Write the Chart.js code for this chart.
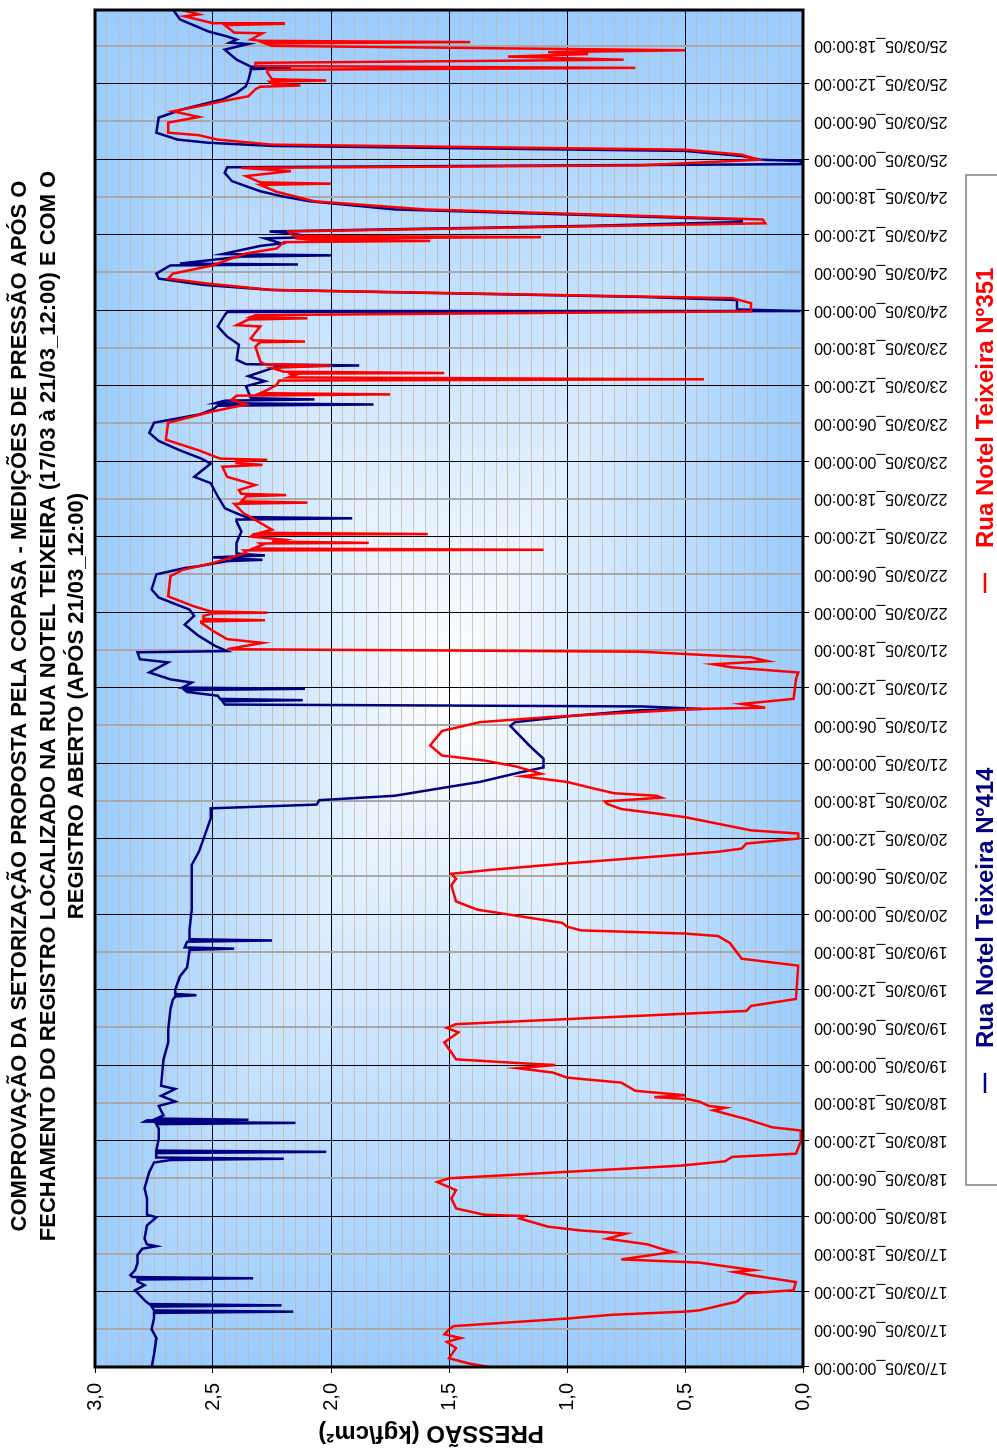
<!DOCTYPE html>
<html>
<head>
<meta charset="utf-8">
<script src="https://cdn.jsdelivr.net/npm/chart.js@4.4.1/dist/chart.umd.min.js"></script>
<style>
  html, body { margin: 0; padding: 0; background: #fff; overflow: hidden; }
  /* chart is drawn landscape and turned a quarter turn, like the scanned sheet */
  #wrap { position: absolute; left: 0; top: 0; width: 1448px; height: 997px;
          transform-origin: 0 0; transform: translate(0, 1448px) rotate(-90deg); }
</style>
</head>
<body>
<div id="wrap"><canvas id="chart" width="1448" height="997"></canvas></div>
<script>
// hours since 17/03/05 00:00 and pressure (kgf/cm2)
const hours414 = [
  0, 2, 4.6, 6, 7.7, 8.6, 8.8, 9.0, 9.6, 9.8,
  10.0, 10.6, 12.2, 13.0, 13.6, 13.9, 14.1, 14.3, 14.6, 15.4,
  16.5, 17.8, 18.8, 19.2, 19.5, 20.4, 22.5, 23.8, 24.2, 26.8,
  28.4, 31.0, 32.5, 32.9, 33.1, 33.3, 34.0, 34.2, 34.4, 36.3,
  37.9, 38.6, 38.8, 39.0, 39.2, 39.3, 39.5, 40.0, 41.5, 42.2,
  43.1, 44.2, 44.7, 48.9, 51.6, 53.7, 56.9, 58.4, 58.9, 59.1,
  59.3, 60.0, 62.1, 63.5, 66.1, 66.3, 66.5, 66.7, 67.6, 67.8,
  68.0, 69.5, 72.7, 77.7, 79.8, 81.9, 84.0, 87.2, 88.8, 89.4,
  90.1, 90.8, 92.4, 93.0, 94.5, 95.3, 96.7, 98.8, 101.9, 102.5,
  103.5, 104.4, 104.6, 105.0, 105.3, 105.8, 106.0, 106.2, 106.7, 107.3,
  107.6, 107.8, 108.0, 108.8, 109.3, 110.4, 112.0, 112.5, 113.6, 113.8,
  114.6, 116.2, 118.0, 119.4, 120.4, 122.3, 123.6, 126.0, 127.0, 127.3,
  128.1, 128.3, 128.7, 129.0, 129.3, 129.9, 131.0, 132.8, 134.4, 134.7,
  134.9, 135.1, 135.7, 136.5, 138.4, 140.5, 141.5, 143.6, 144.4, 145.7,
  147.2, 148.5, 150.1, 151.4, 152.2, 152.8, 153.0, 153.2, 153.6, 153.8,
  154.0, 155.9, 156.7, 157.5, 159.0, 159.2, 159.4, 160.1, 162.5, 163.8,
  165.4, 167.2, 167.7, 167.85, 168.1, 169.6, 170.1, 171.2, 172.0, 173.0,
  173.8, 174.9, 175.1, 175.25, 175.4, 176.5, 176.7, 176.9, 178.2, 178.6,
  179.4, 179.6, 180.2, 180.5, 181.4, 182.0, 182.4, 184.0, 185.3, 186.1,
  186.9, 188.5, 189.8, 190.7, 191.2, 191.7, 191.9, 192.5, 193.3, 194.1,
  194.6, 195.1, 196.2, 198.6, 199.9, 201.5, 202.5, 203.6, 204.6, 206.0,
  206.3, 206.5, 206.7, 207.8, 209.4, 210.3, 210.5, 211.0, 211.5, 212.3,
  214.2, 215.8
];
const pressure414 = [
  2.76, 2.75, 2.74, 2.76, 2.75, 2.75, 2.16, 2.75, 2.76, 2.21,
  2.77, 2.79, 2.83, 2.79, 2.82, 2.82, 2.33, 2.84, 2.85, 2.83,
  2.82, 2.82, 2.80, 2.74, 2.78, 2.79, 2.78, 2.74, 2.78, 2.78,
  2.79, 2.77, 2.75, 2.68, 2.20, 2.74, 2.74, 2.02, 2.74, 2.73,
  2.73, 2.74, 2.15, 2.79, 2.78, 2.35, 2.74, 2.71, 2.73, 2.66,
  2.72, 2.66, 2.72, 2.71, 2.69, 2.69, 2.68, 2.67, 2.66, 2.57,
  2.66, 2.66, 2.64, 2.61, 2.60, 2.60, 2.41, 2.62, 2.61, 2.25,
  2.60, 2.60, 2.59, 2.59, 2.59, 2.56, 2.54, 2.51, 2.51, 2.06,
  2.05, 1.73, 1.47, 1.37, 1.20, 1.10, 1.10, 1.16, 1.24, 1.22,
  0.98, 0.69, 0.43, 0.68, 2.45, 2.46, 2.12, 2.47, 2.48, 2.61,
  2.62, 2.11, 2.63, 2.59, 2.68, 2.77, 2.69, 2.81, 2.82, 2.44,
  2.49, 2.56, 2.62, 2.58, 2.60, 2.73, 2.76, 2.74, 2.62, 2.56,
  2.44, 2.29, 2.50, 2.28, 2.40, 2.40, 2.40, 2.38, 2.40, 2.40,
  1.91, 2.36, 2.40, 2.45, 2.48, 2.51, 2.58, 2.51, 2.55, 2.64,
  2.73, 2.77, 2.75, 2.56, 2.50, 2.48, 1.82, 2.49, 2.45, 2.07,
  2.34, 2.36, 2.28, 2.35, 2.23, 1.88, 2.36, 2.40, 2.39, 2.44,
  2.48, 2.45, 2.44, 0.01, 0.28, 0.28, 0.69, 2.25, 2.54, 2.73,
  2.74, 2.69, 2.68, 2.14, 2.64, 2.38, 2.00, 2.46, 2.30, 2.21,
  2.28, 2.08, 2.17, 2.26, 0.90, 0.26, 0.26, 1.73, 2.09, 2.21,
  2.30, 2.42, 2.45, 2.44, 0.01, 0.01, 0.18, 0.26, 0.50, 2.25,
  2.52, 2.65, 2.74, 2.73, 2.63, 2.46, 2.40, 2.36, 2.35, 2.34,
  2.34, 2.17, 2.34, 2.40, 2.45, 2.35, 2.43, 2.40, 2.44, 2.52,
  2.64, 2.67
];

const hours351 = [
  0, 0.6, 1.4, 3.0, 4.0, 4.6, 5.2, 6.0, 6.5, 7.7,
  8.3, 8.8, 9.0, 10.4, 11.7, 12.2, 13.5, 14.6, 15.1, 15.4,
  16.6, 17.1, 18.3, 18.8, 19.5, 20.4, 21.2, 21.7, 22.3, 23.6,
  24.0, 24.2, 25.2, 26.8, 28.1, 29.4, 30.0, 32.0, 32.7, 33.4,
  33.9, 35.8, 37.6, 38.1, 39.4, 40.8, 41.2, 41.5, 42.2, 42.6,
  42.9, 43.2, 43.9, 45.2, 46.0, 46.8, 47.5, 48.0, 48.3, 48.9,
  50.0, 51.6, 53.2, 53.9, 54.5, 56.6, 57.4, 58.5, 63.8, 64.9,
  67.4, 68.5, 68.9, 69.4, 70.0, 70.6, 72.7, 74.0, 76.6, 77.6,
  78.4, 79.0, 80.0, 81.9, 82.4, 83.2, 84.0, 84.8, 85.3, 87.4,
  88.7, 89.5, 89.9, 90.5, 90.8, 91.2, 91.9, 93.0, 93.9, 94.3,
  95.5, 96.4, 97.2, 98.8, 101.1, 102.5, 103.3, 104.6, 104.8, 105.4,
  106.2, 109.3, 110.4, 111.2, 111.7, 112.2, 112.8, 113.7, 114.1, 115.1,
  115.7, 117.0, 118.3, 118.5, 118.7, 118.9, 119.4, 119.8, 119.9, 120.1,
  120.9, 122.5, 125.7, 126.7, 127.8, 129.4, 129.8, 129.9, 130.1, 130.7,
  130.9, 131.0, 131.2, 131.5, 132.0, 132.3, 132.4, 132.6, 133.1, 134.4,
  135.7, 137.2, 137.4, 137.6, 138.4, 138.6, 138.8, 139.4, 140.2, 141.5,
  143.1, 143.4, 143.7, 144.0, 144.2, 144.4, 145.7, 147.4, 150.1, 151.9,
  153.0, 153.8, 154.4, 154.6, 154.8, 155.3, 156.1, 156.8, 157.0, 157.3,
  157.7, 157.9, 158.0, 158.2, 158.8, 159.2, 159.4, 159.8, 162.2, 162.9,
  163.0, 163.2, 163.5, 165.4, 165.6, 166.5, 166.7, 166.9, 167.2, 167.8,
  169.1, 169.9, 171.2, 172.2, 173.0, 173.8, 175.1, 175.7, 177.0, 177.8,
  178.8, 179.0, 179.2, 179.4, 179.6, 179.8, 180.5, 181.8, 182.4, 184.0,
  185.3, 186.8, 187.9, 188.1, 188.3, 189.3, 190.1, 190.6, 191.0, 191.9,
  192.7, 193.5, 194.3, 195.1, 195.8, 196.2, 197.8, 198.7, 199.6,
  200.4, 201.2, 202.0, 203.1, 203.5, 203.7, 204.0, 204.3, 204.5, 204.7,
  205.8, 206.2, 206.5, 206.8, 207.3, 207.8, 208.3, 208.7, 209.0, 209.3,
  210.0, 210.4, 210.6, 210.8, 211.0, 212.0, 212.1, 213.3, 213.5, 213.6,
  214.7, 215.0, 215.8
];
const pressure351 = [
  1.33, 1.42, 1.50, 1.47, 1.51, 1.45, 1.52, 1.50, 1.48, 1.00,
  0.81, 0.50, 0.44, 0.28, 0.24, 0.04, 0.03, 0.22, 0.29, 0.21,
  0.44, 0.77, 0.55, 0.60, 0.66, 0.83, 0.75, 0.94, 1.08, 1.20,
  1.18, 1.35, 1.47, 1.49, 1.47, 1.55, 1.50, 0.52, 0.33, 0.30,
  0.03, 0.01, 0.01, 0.13, 0.24, 0.38, 0.33, 0.40, 0.44, 0.49,
  0.63, 0.50, 0.71, 0.77, 1.00, 1.06, 1.21, 1.05, 1.20, 1.47,
  1.49, 1.52, 1.46, 1.51, 1.47, 0.24, 0.22, 0.03, 0.02, 0.26,
  0.31, 0.36, 0.50, 0.94, 1.00, 1.02, 1.38, 1.47, 1.49, 1.47,
  1.49, 1.33, 1.02, 0.36, 0.26, 0.24, 0.02, 0.02, 0.22, 0.50,
  0.77, 0.83, 0.84, 0.60, 0.62, 0.80, 0.88, 1.00, 1.19, 1.11,
  1.22, 1.35, 1.53, 1.58, 1.53, 1.37, 1.08, 0.46, 0.16, 0.26,
  0.04, 0.03, 0.02, 0.30, 0.38, 0.15, 0.22, 0.69, 2.44, 2.29,
  2.44, 2.50, 2.55, 2.55, 2.28, 2.54, 2.54, 2.50, 2.27, 2.51,
  2.58, 2.69, 2.68, 2.63, 2.50, 2.36, 2.37, 1.10, 2.33, 2.29,
  2.30, 1.84, 2.25, 2.20, 2.34, 2.33, 1.59, 2.30, 2.25, 2.31,
  2.37, 2.41, 2.10, 2.38, 2.36, 2.19, 2.38, 2.39, 2.32, 2.44,
  2.46, 2.29, 2.40, 2.40, 2.27, 2.47, 2.56, 2.70, 2.69, 2.50,
  2.36, 2.42, 2.40, 1.75, 2.30, 2.27, 2.23, 2.22, 0.42, 2.18,
  2.15, 2.18, 1.52, 2.20, 2.25, 2.00, 2.28, 2.30, 2.32, 2.30,
  2.11, 2.33, 2.34, 2.30, 2.40, 2.35, 2.10, 2.34, 2.32, 0.22,
  0.22, 0.30, 2.25, 2.52, 2.69, 2.67, 2.50, 2.46, 2.36, 2.23,
  2.20, 1.58, 2.07, 2.15, 1.11, 2.16, 2.18, 0.16, 0.17, 1.60,
  2.07, 2.23, 2.30, 2.00, 2.30, 2.36, 2.17, 2.38, 0.69, 0.19,
  0.26, 0.50, 2.25, 2.48, 2.56, 2.69, 2.69, 2.56, 2.67,
  2.56, 2.46, 2.35, 2.32, 2.30, 2.13, 2.25, 2.26, 2.02, 2.25,
  2.27, 2.27, 0.71, 2.32, 2.32, 0.76, 1.25, 0.91, 1.08, 0.50,
  2.25, 2.28, 1.41, 2.30, 2.34, 2.29, 2.41, 2.45, 2.20, 2.50,
  2.62, 2.56, 2.64
];

// axis labels
const dayLabels = ['17/03/05', '18/03/05', '19/03/05', '20/03/05', '21/03/05',
                   '22/03/05', '23/03/05', '24/03/05', '25/03/05'];
const hourLabels = ['00:00:00', '06:00:00', '12:00:00', '18:00:00'];
const pressureLabels = ['0,0', '0,5', '1,0', '1,5', '2,0', '2,5', '3,0'];
const titleLines = [
  'COMPROVAÇÃO DA SETORIZAÇÃO PROPOSTA PELA COPASA - MEDIÇÕES DE PRESSÃO APÓS O',
  'FECHAMENTO DO REGISTRO LOCALIZADO NA RUA NOTEL TEIXEIRA (17/03 à 21/03_12:00) E COM O',
  'REGISTRO ABERTO (APÓS 21/03_12:00)'
];
const seriesNames = ['Rua Notel Teixeira Nº414', 'Rua Notel Teixeira Nº351'];
const seriesColors = ['#000080', '#FF0000'];

const FONT = "'Liberation Sans', Arial, sans-serif";
const X_MAX = 215.7;
const EDGE = [153, 204, 255];

const toPoints = (xs, ys) => xs.map((x, i) => ({ x: x, y: ys[i] }));
const isMajorY = v => Math.abs(v * 2 - Math.round(v * 2)) < 1e-6;

// Excel style "from centre" fill behind the plot
const bgPlugin = {
  id: 'bgFill',
  beforeDraw(chart) {
    const a = chart.chartArea;
    const w = Math.round(a.right - a.left), h = Math.round(a.bottom - a.top);
    const img = chart.ctx.createImageData(w, h);
    const hw = w / 2, hh = h / 2;
    for (let y = 0; y < h; y++) {
      for (let x = 0; x < w; x++) {
        const t = Math.min(1, Math.max(Math.abs(x - hw) / hw, Math.abs(y - hh) / hh));
        const k = (y * w + x) * 4;
        img.data[k] = 255 + (EDGE[0] - 255) * t;
        img.data[k + 1] = 255 + (EDGE[1] - 255) * t;
        img.data[k + 2] = 255 + (EDGE[2] - 255) * t;
        img.data[k + 3] = 255;
      }
    }
    chart.ctx.putImageData(img, Math.round(a.left), Math.round(a.top));
  }
};

const textPlugin = {
  id: 'texts',
  afterDraw(chart) {
    const ctx = chart.ctx, a = chart.chartArea;
    ctx.save();
    // plot frame
    ctx.strokeStyle = '#000';
    ctx.lineWidth = 3;
    ctx.strokeRect(a.left, a.top, a.right - a.left, a.bottom - a.top);

    // title
    ctx.fillStyle = '#000';
    ctx.textAlign = 'center';
    ctx.textBaseline = 'middle';
    ctx.font = 'bold 22px ' + FONT;
    [20, 48.5, 77].forEach((y, i) => ctx.fillText(titleLines[i], 742, y));

    // y axis title
    ctx.save();
    ctx.translate(15, 431);
    ctx.rotate(-Math.PI / 2);
    ctx.font = 'bold 24px ' + FONT;
    ctx.fillText('PRESSÃO (kgf\\cm²)', 0, 0);
    ctx.restore();

    // legend
    ctx.strokeStyle = '#808080';
    ctx.lineWidth = 1.5;
    ctx.strokeRect(263, 966, 1010, 60);
    ctx.font = 'bold 24px ' + FONT;
    ctx.textAlign = 'left';
    [355, 855].forEach((x, i) => {
      ctx.strokeStyle = seriesColors[i];
      ctx.lineWidth = 2.5;
      ctx.beginPath();
      ctx.moveTo(x, 985);
      ctx.lineTo(x + 20, 985);
      ctx.stroke();
      ctx.fillStyle = seriesColors[i];
      ctx.fillText(seriesNames[i], x + 45, 986);
    });
    ctx.restore();
  }
};

const xTicks = [];
for (let h = 0; h <= 210; h += 6) xTicks.push(h);
const yTicks = [];
for (let i = 0; i <= 60; i++) yTicks.push(Math.round(i * 5) / 100);

new Chart(document.getElementById('chart').getContext('2d'), {
  type: 'line',
  data: {
    datasets: [
      {
        label: seriesNames[0],
        data: toPoints(hours414, pressure414),
        borderColor: seriesColors[0],
        borderWidth: 2.5,
        pointRadius: 0,
        tension: 0,
        order: 2
      },
      {
        label: seriesNames[1],
        data: toPoints(hours351, pressure351),
        borderColor: seriesColors[1],
        borderWidth: 2.5,
        pointRadius: 0,
        tension: 0,
        order: 1
      }
    ]
  },
  options: {
    responsive: false,
    animation: false,
    devicePixelRatio: 1,
    layout: { padding: { top: 95, right: 10, bottom: 0, left: 0 } },
    plugins: {
      legend: { display: false },
      title: { display: false },
      tooltip: { enabled: false }
    },
    scales: {
      x: {
        type: 'linear',
        min: 0,
        max: X_MAX,
        afterBuildTicks: s => { s.ticks = xTicks.map(v => ({ value: v })); },
        afterFit: s => { s.height = 194; },
        border: { display: false },
        grid: {
          z: -1,
          color: c => (c.tick && c.tick.value % 12 === 0) ? '#000' : '#A8A8A8',
          lineWidth: c => (c.tick && c.tick.value % 12 === 0) ? 1 : 2,
          tickLength: 6,
          tickColor: c => (c.tick && c.tick.value % 12 === 0) ? '#000' : 'rgba(0,0,0,0)'
        },
        ticks: {
          autoSkip: false,
          minRotation: 90,
          maxRotation: 90,
          padding: 5,
          color: '#000',
          font: { family: FONT, size: 16 },
          callback: v => dayLabels[Math.floor(v / 24)] + '_' + hourLabels[(v % 24) / 6]
        }
      },
      y: {
        min: 0,
        max: 3,
        afterBuildTicks: s => { s.ticks = yTicks.map(v => ({ value: v })); },
        afterFit: s => { s.width = 81; },
        border: { display: false },
        grid: {
          z: -2,
          color: c => (c.tick && isMajorY(c.tick.value)) ? '#000' : 'rgba(200,180,155,0.75)',
          lineWidth: 1,
          tickLength: 6,
          tickColor: c => (c.tick && isMajorY(c.tick.value)) ? '#000' : 'rgba(0,0,0,0)'
        },
        ticks: {
          autoSkip: false,
          padding: 10,
          color: '#000',
          font: { family: FONT, size: 20 },
          callback: v => isMajorY(v) ? pressureLabels[Math.round(v * 2)] : ''
        }
      }
    }
  },
  plugins: [bgPlugin, textPlugin]
});
</script>
</body>
</html>
